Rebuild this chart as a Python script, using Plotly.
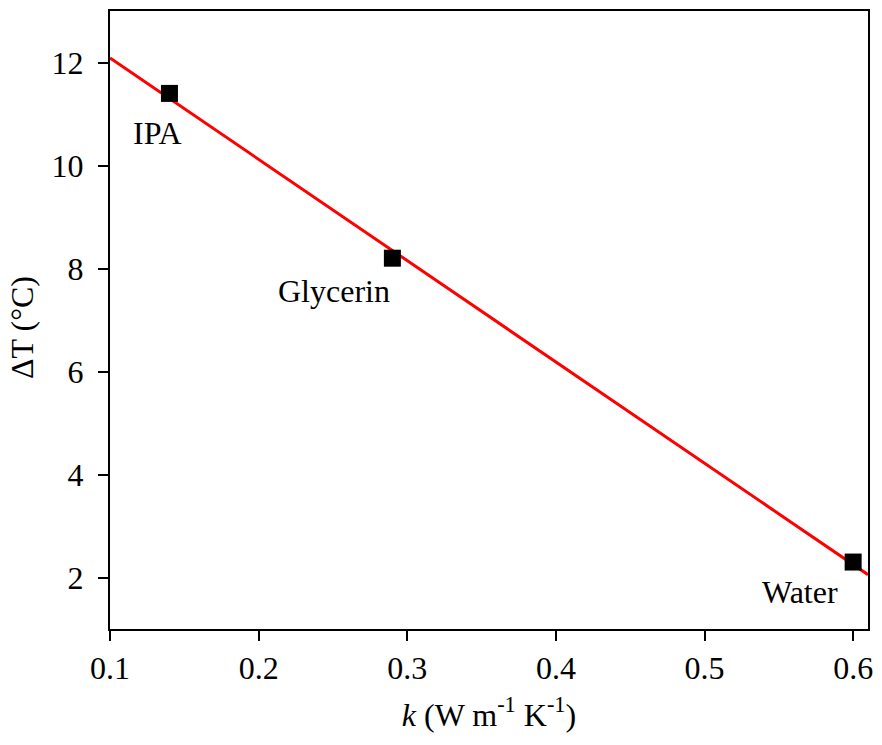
import numpy as np
import plotly.graph_objects as go

# Data
liquids = ["IPA", "Glycerin", "Water"]
k_values = [0.14, 0.29, 0.60]          # W m^-1 K^-1
delta_t = [11.4, 8.2, 2.3]             # °C
x_ticks = [0.1, 0.2, 0.3, 0.4, 0.5, 0.6]
y_ticks = [2, 4, 6, 8, 10, 12]
x_range = [0.1, 0.61]
y_range = [1, 13]

# Linear fit
slope, intercept = np.polyfit(k_values, delta_t, 1)
fit_x = np.array(x_range)
fit_y = slope * fit_x + intercept

FONT = "Liberation Serif"
FS = 32

fig = go.Figure()
fig.add_trace(go.Scatter(x=fit_x, y=fit_y, mode="lines",
                         line=dict(color="#ff0000", width=3),
                         showlegend=False, hoverinfo="skip"))
fig.add_trace(go.Scatter(x=k_values, y=delta_t, mode="markers",
                         marker=dict(symbol="square", size=17, color="black"),
                         showlegend=False))

# label offsets (data units) relative to each point
label_dx = [-0.008, -0.039, -0.036]
label_dy = [-0.76, -0.63, -0.58]
for name, xv, yv, dx, dy in zip(liquids, k_values, delta_t, label_dx, label_dy):
    fig.add_annotation(x=xv + dx, y=yv + dy, text=name, showarrow=False,
                       xanchor="center", yanchor="middle",
                       font=dict(family=FONT, size=FS, color="black"))

axis_common = dict(showline=True, linecolor="black", linewidth=2, mirror=True,
                   ticks="outside", ticklen=10, tickwidth=2, tickcolor="black",
                   showgrid=False, zeroline=False,
                   tickfont=dict(family=FONT, size=FS, color="black"))

fig.update_xaxes(range=x_range, tickvals=x_ticks,
                 ticktext=[f"{v:.1f}" for v in x_ticks],
                 title=dict(text="<i>k</i> (W m<sup>-1</sup> K<sup>-1</sup>)",
                            font=dict(family=FONT, size=FS, color="black"),
                            standoff=18),
                 **axis_common)
fig.update_yaxes(range=y_range, tickvals=y_ticks,
                 ticktext=[str(v) for v in y_ticks],
                 ticklabelstandoff=8,
                 **axis_common)

# y-axis title as a rotated annotation
fig.add_annotation(text="ΔT (°C)", textangle=-90, showarrow=False,
                   xref="paper", yref="paper", x=0, y=0.487,
                   xanchor="center", yanchor="middle", xshift=-88,
                   font=dict(family=FONT, size=FS, color="black"))

fig.update_layout(width=882, height=745,
                  margin=dict(l=110, r=9, t=9, b=116),
                  plot_bgcolor="white", paper_bgcolor="white")

fig.write_html("out.html",
               config={"displayModeBar": False},
               post_script="document.body.style.margin='0px';"
                           "document.body.style.overflow='hidden';")
